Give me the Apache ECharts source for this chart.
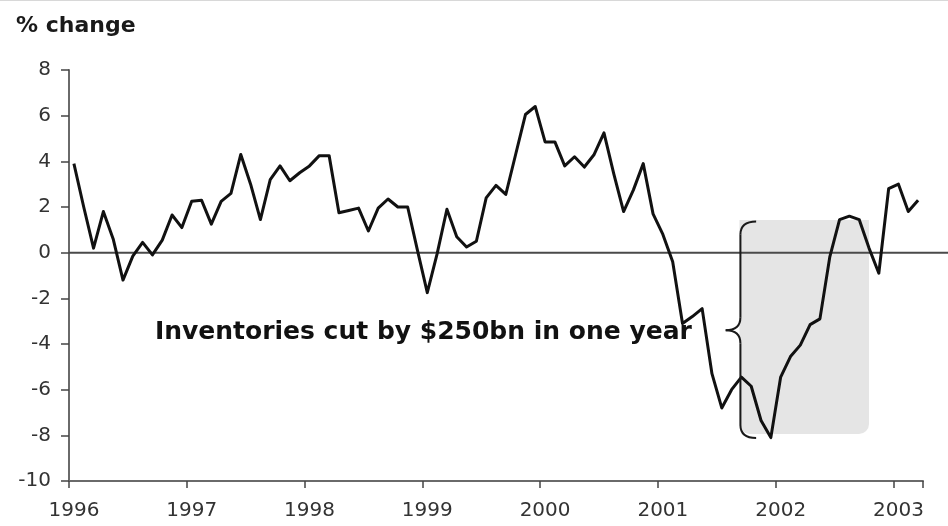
<!DOCTYPE html>
<html>
<head>
<meta charset="utf-8">
<script src="https://cdn.jsdelivr.net/npm/echarts@6/dist/echarts.min.js"></script>
<style>
  html, body { margin: 0; padding: 0; background: #fff; }
  #chart { width: 948px; height: 526px; }
</style>
</head>
<body>
<div id="chart"></div>
<script>
// Year tick labels (one tick per January)
const yearLabels = ['1996', '1997', '1998', '1999', '2000', '2001', '2002', '2003'];
const monthsShown = 87; // Jan 1996 .. Mar 2003

// Monthly inventories, % change
const inventoryChange = [
  3.9, 2.0, 0.2, 1.8, 0.6, -1.2, -0.15, 0.45, -0.1, 0.55, 1.65, 1.1,
  2.25, 2.3, 1.25, 2.25, 2.6, 4.3, 3.0, 1.45, 3.2, 3.8, 3.15, 3.5,
  3.8, 4.25, 4.25, 1.75, 1.85, 1.95, 0.95, 1.95, 2.35, 2.0, 2.0, 0.1,
  -1.75, -0.05, 1.9, 0.7, 0.25, 0.5, 2.4, 2.95, 2.55, 4.3, 6.05, 6.4,
  4.85, 4.85, 3.8, 4.2, 3.75, 4.3, 5.25, 3.45, 1.8, 2.75, 3.9, 1.7,
  0.8, -0.4, -3.1, -2.8, -2.45, -5.3, -6.8, -6.0, -5.45, -5.85, -7.35, -8.1,
  -5.45, -4.55, -4.05, -3.15, -2.9, -0.2, 1.45, 1.6, 1.45, 0.2, -0.9, 2.8,
  3.0, 1.8, 2.3
];

// Annotation anchors in data units (month index, % change)
const shadeSpan = [67.8, 81.0];
const shadeRange = [1.43, -7.94];
const braceSpan = [66.4, 67.9, 69.5];   // tip, stem, hook ends
const braceRange = [1.37, -3.4, -8.12]; // top, tip, bottom
const noteAnchor = [8.25, -3.5];
const noteText = 'Inventories cut by $250bn in one year';

// Month categories, e.g. "1996-01"
const months = [];
for (let i = 0; i < monthsShown; i++) {
  const y = 1996 + Math.floor(i / 12);
  const m = (i % 12) + 1;
  months.push(y + '-' + (m < 10 ? '0' + m : m));
}

const FONT = 'DejaVu Sans';
const chart = echarts.init(document.getElementById('chart'), null, { renderer: 'canvas' });

chart.setOption({
  animation: false,
  backgroundColor: '#fff',
  title: {
    text: '% change',
    left: 11,
    top: 10,
    textStyle: { fontFamily: FONT, fontSize: 22, fontWeight: 'bold', color: '#1a1a1a' }
  },
  grid: { left: 69, right: 25, top: 70, bottom: 45, containLabel: false },
  xAxis: {
    type: 'category',
    data: months,
    boundaryGap: true,
    axisLine: { show: true, onZero: false, lineStyle: { color: '#6a6a6a', width: 2 } },
    axisTick: {
      show: true, length: 7,
      interval: function (i) { return i % 12 === 0; },
      lineStyle: { color: '#444', width: 1.5 }
    },
    axisLabel: {
      interval: function (i) { return i % 12 === 0; },
      formatter: function (v, i) { return yearLabels[Math.floor(i / 12)]; },
      margin: 20,
      fontFamily: FONT, fontSize: 20, color: '#333'
    },
    splitLine: { show: false }
  },
  yAxis: {
    type: 'value',
    min: -10, max: 8, interval: 2,
    axisLine: { show: true, onZero: false, lineStyle: { color: '#6a6a6a', width: 2 } },
    axisTick: { show: true, length: 8, lineStyle: { color: '#444', width: 1.5 } },
    axisLabel: { margin: 18, fontFamily: FONT, fontSize: 20, color: '#333' },
    splitLine: { show: false }
  },
  series: [{
    type: 'line',
    data: inventoryChange,
    showSymbol: false,
    symbol: 'none',
    z: 5,
    lineStyle: { color: '#111', width: 3, join: 'round' }
  }]
});

function drawAnnotations() {
  const x0 = chart.convertToPixel({ xAxisIndex: 0 }, 0);
  const bw = chart.convertToPixel({ xAxisIndex: 0 }, 1) - x0;
  const px = function (m) { return x0 + m * bw; };
  const py = function (v) { return chart.convertToPixel({ yAxisIndex: 0 }, v); };
  const gridLeft = x0 - bw / 2;
  const y0 = py(0);

  const left = px(shadeSpan[0]), right = px(shadeSpan[1]);
  const top = py(shadeRange[0]), bottom = py(shadeRange[1]);

  const xTip = px(braceSpan[0]), xStem = px(braceSpan[1]), xHook = px(braceSpan[2]);
  const yTop = py(braceRange[0]), yMid = py(braceRange[1]), yBot = py(braceRange[2]);
  const r = 13;
  const braceStyle = { stroke: '#1a1a1a', lineWidth: 2, fill: null };
  const curve = function (x1, y1, cx, cy, x2, y2) {
    return { type: 'bezierCurve', z: 6, silent: true,
      shape: { x1: x1, y1: y1, cpx1: cx, cpy1: cy, x2: x2, y2: y2 },
      style: braceStyle };
  };
  const seg = function (x1, y1, x2, y2) {
    return { type: 'line', z: 6, silent: true,
      shape: { x1: x1, y1: y1, x2: x2, y2: y2 }, style: braceStyle };
  };

  chart.setOption({
    graphic: [
      { type: 'line', z: 0, silent: true,
        shape: { x1: 0, y1: 0.5, x2: 948, y2: 0.5 },
        style: { stroke: '#d8d8d8', lineWidth: 1 } },
      { type: 'rect', z: 1, silent: true,
        shape: { x: left, y: top, width: right - left, height: bottom - top, r: [0, 0, 10, 10] },
        style: { fill: '#e5e5e5' } },
      { type: 'line', z: 3, silent: true,
        shape: { x1: gridLeft, y1: y0, x2: 948, y2: y0 },
        style: { stroke: '#4a4a4a', lineWidth: 2 } },
      // curly brace spanning the one-year cut
      curve(xHook, yTop, xStem, yTop, xStem, yTop + r),
      seg(xStem, yTop + r, xStem, yMid - r),
      curve(xStem, yMid - r, xStem, yMid, xTip, yMid),
      curve(xTip, yMid, xStem, yMid, xStem, yMid + r),
      seg(xStem, yMid + r, xStem, yBot - r),
      curve(xStem, yBot - r, xStem, yBot, xHook, yBot),
      { type: 'text', z: 7, silent: true,
        x: px(noteAnchor[0]), y: py(noteAnchor[1]),
        style: {
          text: noteText, fill: '#111',
          font: 'bold 25px "DejaVu Sans"',
          textAlign: 'left', textVerticalAlign: 'middle'
        } }
    ]
  });
}
drawAnnotations();
</script>
</body>
</html>
